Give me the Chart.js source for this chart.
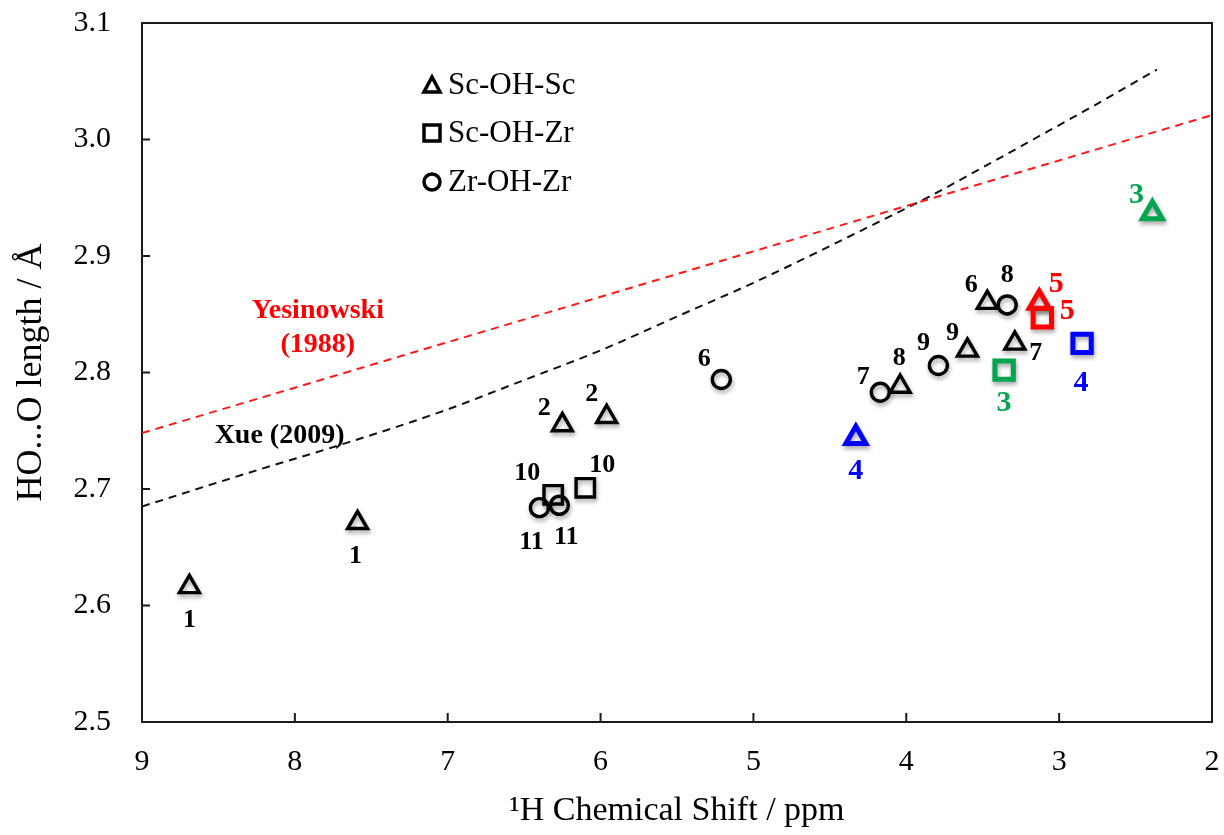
<!DOCTYPE html>
<html>
<head>
<meta charset="utf-8">
<script src="https://cdn.jsdelivr.net/npm/chart.js@4.4.0/dist/chart.umd.min.js"></script>
<style>
  html, body { margin: 0; padding: 0; background: #fff; }
  #wrap { width: 1224px; height: 835px; }
</style>
</head>
<body>
<div id="wrap"><canvas id="chart" width="1224" height="835"></canvas></div>
<script>
// Sc-OH-Sc sites (triangles)
const scScShift = [8.69, 7.59, 6.25, 5.96, 4.33, 4.04, 3.60, 3.47, 3.29, 3.13, 2.39];
const scScLength = [2.616, 2.671, 2.755, 2.762, 2.744, 2.788, 2.819, 2.860, 2.825, 2.860, 2.937];
const scScLabels = ['1', '1', '2', '2', '4', '8', '9', '6', '7', '5', '3'];

// Sc-OH-Zr sites (squares)
const scZrShift = [6.31, 6.10, 3.36, 3.11, 2.85];
const scZrLength = [2.695, 2.701, 2.802, 2.847, 2.825];
const scZrLabels = ['10', '10', '3', '5', '4'];

// Zr-OH-Zr sites (circles)
const zrZrShift = [6.40, 6.27, 5.21, 4.17, 3.79, 3.34];
const zrZrLength = [2.684, 2.686, 2.794, 2.783, 2.806, 2.858];
const zrZrLabels = ['11', '11', '6', '7', '9', '8'];

// correlation curves
const yesinowskiShift = [9, 7, 5, 3, 2];
const yesinowskiLength = [2.748, 2.826, 2.904, 2.982, 3.021];
const xueShift = [9.0, 8.3, 7.7, 7.05, 6.53, 6.0, 5.5, 5.0, 4.57, 4.2, 3.85, 3.5, 3.17, 2.8, 2.36];
const xueLength = [2.685, 2.714, 2.738, 2.766, 2.792, 2.819, 2.848, 2.877, 2.904, 2.928, 2.951, 2.976, 3.000, 3.027, 3.060];

// axis ticks
const xTickValues = [9, 8, 7, 6, 5, 4, 3, 2];
const xTickLabels = ['9', '8', '7', '6', '5', '4', '3', '2'];
const yTickValues = [2.5, 2.6, 2.7, 2.8, 2.9, 3.0, 3.1];
const yTickLabels = ['2.5', '2.6', '2.7', '2.8', '2.9', '3.0', '3.1'];

const SERIF = "'Liberation Serif', 'Times New Roman', serif";

// colour of a sample number (3, 4 and 5 are highlighted)
function sampleColor(label) {
  if (label === '3') return '#00a54f';
  if (label === '4') return '#0000ff';
  if (label === '5') return '#ff0000';
  return '#000000';
}
function isHighlight(label) {
  return sampleColor(label) !== '#000000';
}

// label offsets in pixels from the marker centre
const labelOffsets = {
  tri: [[0, 33], [-2, 33], [-18, -17], [-15, -22], [0, 34], [-1, -28], [-15, -17], [-16, -17], [21, 10], [17, -18], [-16, -18]],
  sq: [[-26, -22], [17, -23], [0, 33], [25, -6], [-1, 40]],
  ci: [[-8, 35], [7, 32], [-17, -20], [-17, -15], [-15, -22], [0, -30]],
};

function toPoints(xs, ys) {
  return xs.map((x, i) => ({ x: x, y: ys[i] }));
}

function markerSet(name, xs, ys, labels, style, radius, key) {
  return {
    label: name,
    data: toPoints(xs, ys),
    pointStyle: style,
    pointRadius: radius,
    pointBackgroundColor: 'rgba(255,255,255,0)',
    pointBorderColor: labels.map(sampleColor),
    pointBorderWidth: labels.map(l => (isHighlight(l) ? 5 : 3.4)),
    showLine: false,
    isMarker: true,
    pointLabels: labels,
    offsetKey: key,
  };
}

function noScalePadding(s) {
  s.paddingTop = 0;
  s.paddingBottom = 0;
  s.paddingLeft = 0;
  s.paddingRight = 0;
}

const framePlugin = {
  id: 'frame',
  beforeDatasetsDraw(chart) {
    const { ctx, chartArea: a, scales } = chart;
    ctx.save();
    ctx.strokeStyle = '#1a1a1a';
    ctx.lineWidth = 2;
    ctx.strokeRect(a.left, a.top, a.right - a.left, a.bottom - a.top);
    ctx.beginPath();
    xTickValues.forEach(v => {
      const px = scales.x.getPixelForValue(v);
      ctx.moveTo(px, a.bottom);
      ctx.lineTo(px, a.bottom - 9);
    });
    yTickValues.forEach(v => {
      const py = scales.y.getPixelForValue(v);
      ctx.moveTo(a.left, py);
      ctx.lineTo(a.left + 8, py);
    });
    ctx.stroke();
    ctx.restore();
  },
};

const shadowPlugin = {
  id: 'markerShadow',
  beforeDatasetDraw(chart, args) {
    if (!chart.data.datasets[args.index].isMarker) return;
    const ctx = chart.ctx;
    ctx.save();
    ctx.shadowColor = 'rgba(0,0,0,0.35)';
    ctx.shadowBlur = 4;
    ctx.shadowOffsetX = 1;
    ctx.shadowOffsetY = 3;
  },
  afterDatasetDraw(chart, args) {
    if (!chart.data.datasets[args.index].isMarker) return;
    chart.ctx.restore();
  },
};

const labelPlugin = {
  id: 'pointLabels',
  afterDatasetsDraw(chart) {
    const ctx = chart.ctx;
    ctx.save();
    ctx.textAlign = 'center';
    ctx.textBaseline = 'middle';
    chart.data.datasets.forEach((ds, di) => {
      if (!ds.pointLabels) return;
      const meta = chart.getDatasetMeta(di);
      const offs = labelOffsets[ds.offsetKey];
      ds.pointLabels.forEach((txt, i) => {
        const el = meta.data[i];
        const big = isHighlight(txt);
        ctx.font = 'bold ' + (big ? 30 : 26) + 'px ' + SERIF;
        ctx.fillStyle = sampleColor(txt);
        ctx.fillText(txt, el.x + offs[i][0], el.y + offs[i][1]);
      });
    });

    // curve names, placed in data coordinates
    const sx = chart.scales.x, sy = chart.scales.y;
    ctx.font = 'bold 28px ' + SERIF;
    ctx.fillStyle = '#ff0000';
    ctx.fillText('Yesinowski', sx.getPixelForValue(7.85), sy.getPixelForValue(2.853));
    ctx.fillText('(1988)', sx.getPixelForValue(7.85), sy.getPixelForValue(2.824));
    ctx.fillStyle = '#000000';
    ctx.fillText('Xue (2009)', sx.getPixelForValue(8.1), sy.getPixelForValue(2.746));
    ctx.restore();
  },
};

const legendPlugin = {
  id: 'insideLegend',
  afterDraw(chart) {
    const { ctx, chartArea: a } = chart;
    const x0 = a.left + 290;
    const rows = [
      { y: a.top + 62, shape: 'tri', text: 'Sc-OH-Sc' },
      { y: a.top + 110, shape: 'sq', text: 'Sc-OH-Zr' },
      { y: a.top + 159, shape: 'ci', text: 'Zr-OH-Zr' },
    ];
    ctx.save();
    ctx.strokeStyle = '#000';
    ctx.lineWidth = 3.5;
    ctx.lineJoin = 'miter';
    rows.forEach(r => {
      ctx.beginPath();
      if (r.shape === 'tri') {
        ctx.moveTo(x0, r.y - 8);
        ctx.lineTo(x0 + 8, r.y + 7);
        ctx.lineTo(x0 - 8, r.y + 7);
        ctx.closePath();
      } else if (r.shape === 'sq') {
        ctx.rect(x0 - 8, r.y - 8, 16, 16);
      } else {
        ctx.arc(x0, r.y, 8, 0, Math.PI * 2);
      }
      ctx.stroke();
      ctx.font = '31px ' + SERIF;
      ctx.fillStyle = '#000';
      ctx.textAlign = 'left';
      ctx.textBaseline = 'middle';
      ctx.fillText(r.text, x0 + 16, r.y + 1);
    });
    ctx.restore();
  },
};

const ctx = document.getElementById('chart').getContext('2d');

new Chart(ctx, {
  type: 'scatter',
  data: {
    datasets: [
      markerSet('Sc-OH-Zr', scZrShift, scZrLength, scZrLabels, 'rect', 13, 'sq'),
      markerSet('Sc-OH-Sc', scScShift, scScLength, scScLabels, 'triangle', 11.5, 'tri'),
      markerSet('Zr-OH-Zr', zrZrShift, zrZrLength, zrZrLabels, 'circle', 9, 'ci'),
      {
        label: 'Yesinowski (1988)',
        data: toPoints(yesinowskiShift, yesinowskiLength),
        showLine: true,
        borderColor: '#ff1a1a',
        borderWidth: 2,
        borderDash: [8, 6],
        pointRadius: 0,
      },
      {
        label: 'Xue (2009)',
        data: toPoints(xueShift, xueLength),
        showLine: true,
        borderColor: '#111111',
        borderWidth: 2,
        borderDash: [8, 6],
        cubicInterpolationMode: 'monotone',
        pointRadius: 0,
      },
    ],
  },
  options: {
    responsive: false,
    animation: false,
    layout: { autoPadding: false, padding: { left: 10, top: 23, right: 12, bottom: 4 } },
    plugins: {
      legend: { display: false },
      tooltip: { enabled: false },
    },
    scales: {
      x: {
        type: 'linear',
        reverse: true,
        min: 2,
        max: 9,
        afterBuildTicks(s) {
          s.ticks = xTickValues.map(v => ({ value: v }));
        },
        afterFit(s) {
          s.height = 835 - 722 - 4;
          noScalePadding(s);
        },
        grid: { display: false, drawTicks: false },
        border: { display: false },
        ticks: {
          color: '#000',
          padding: 22,
          font: { family: SERIF, size: 30 },
          maxRotation: 0,
          callback: (v, i) => xTickLabels[i],
        },
        title: {
          display: true,
          text: '¹H Chemical Shift / ppm',
          color: '#000',
          font: { family: SERIF, size: 34 },
          padding: { top: 0, bottom: 0 },
        },
      },
      y: {
        type: 'linear',
        min: 2.5,
        max: 3.1,
        afterBuildTicks(s) {
          s.ticks = yTickValues.map(v => ({ value: v }));
        },
        afterFit(s) {
          s.width = 142 - 10;
          noScalePadding(s);
        },
        grid: { display: false, drawTicks: false },
        border: { display: false },
        ticks: {
          color: '#000',
          padding: 31,
          font: { family: SERIF, size: 30 },
          callback: (v, i) => yTickLabels[i],
        },
        title: {
          display: true,
          text: 'HO...O length / Å',
          color: '#000',
          font: { family: SERIF, size: 36 },
          padding: { top: 0, bottom: 0 },
        },
      },
    },
  },
  plugins: [framePlugin, shadowPlugin, labelPlugin, legendPlugin],
});
</script>
</body>
</html>
